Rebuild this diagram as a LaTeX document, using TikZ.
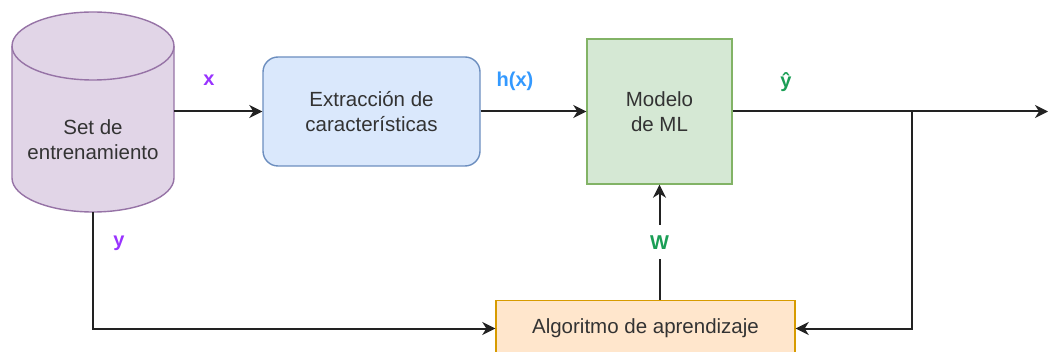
\documentclass[tikz,border=0pt]{standalone}
\usepackage{fontspec}
\setmainfont{Liberation Sans}
\usetikzlibrary{arrows.meta}
\definecolor{txt}{HTML}{333333}
\definecolor{lin}{HTML}{222222}
\definecolor{purp}{HTML}{9933FF}
\definecolor{blu}{HTML}{3399FF}
\definecolor{grn}{HTML}{1A9E55}
\definecolor{cylfill}{HTML}{E1D5E7}
\definecolor{cylline}{HTML}{9673A6}
\definecolor{extfill}{HTML}{DAE8FC}
\definecolor{extline}{HTML}{6C8EBF}
\definecolor{modfill}{HTML}{D5E8D4}
\definecolor{modline}{HTML}{82B366}
\definecolor{algfill}{HTML}{FFE6CC}
\definecolor{algline}{HTML}{D79B00}
\tikzset{
  mainfont/.style={font=\fontsize{20.5}{25}\selectfont, text=txt, align=center},
  lbl/.style={font=\fontsize{20}{24}\selectfont\bfseries},
  boxstyle/.style={draw, line width=1.4pt, mainfont, inner sep=0pt},
  arr/.style={draw=lin, line width=2pt, -{Stealth[length=13pt,width=13pt,inset=4pt]}},
}
\begin{document}
\begin{tikzpicture}[x=1pt,y=1pt]
\clip (0,0) rectangle (1048,-352);
\useasboundingbox (0,0) rectangle (1048,-352);
% cylinder
\fill[cylfill] (12,-46) -- (12,-178) arc[start angle=180,end angle=360,x radius=81,y radius=34] -- (174,-46) arc[start angle=0,end angle=180,x radius=81,y radius=34] -- cycle;
\draw[draw=cylline, line width=1.4pt] (12,-46) -- (12,-178) arc[start angle=180,end angle=360,x radius=81,y radius=34] -- (174,-46) arc[start angle=0,end angle=180,x radius=81,y radius=34] -- cycle;
\draw[draw=cylline, line width=1.4pt] (12,-46) arc[start angle=180,end angle=360,x radius=81,y radius=34];
\node[minimum width=162pt, minimum height=200pt, inner sep=0pt] (db) at (93,-112) {};
\node[mainfont] (dbtext) at (93,-140) {Set de\\entrenamiento};
% boxes
\node[boxstyle, draw=extline, fill=extfill, rounded corners=15pt, minimum width=217pt, minimum height=109pt] (ext) at (371.5,-111.5) {Extracción de\\características};
\node[boxstyle, draw=modline, fill=modfill, minimum width=145pt, minimum height=145pt] (model) at (659.5,-111.5) {Modelo\\de ML};
\node[boxstyle, draw=algline, fill=algfill, minimum width=299pt, minimum height=56pt] (alg) at (645.5,-328.5) {\raisebox{2pt}{Algoritmo de aprendizaje}};
% connectors
\coordinate (out) at (1048,-111.5);
\coordinate (j) at (912,-111.5);
\draw[arr] (db.east |- ext.west) -- (ext.west);
\draw[arr] (ext.east) -- (model.west);
\draw[arr] (model.east) -- (out);
\draw[arr] (j) |- (alg.east);
\draw[arr] (db.south) |- (alg.west);
\draw[arr] (model.south |- alg.north) -- node[lbl, text=grn, fill=white, inner sep=3pt, minimum height=34pt] (wl) {W} (model.south);
% labels
\node[lbl, text=purp] (xl) at (209,-80) {x};
\node[lbl, text=blu] (hl) at (515,-81) {h(x)};
\node[lbl, text=grn] (yhl) at (786,-82) {ŷ};
\node[lbl, text=purp] (yl) at (119,-243) {y};
\end{tikzpicture}
\end{document}
